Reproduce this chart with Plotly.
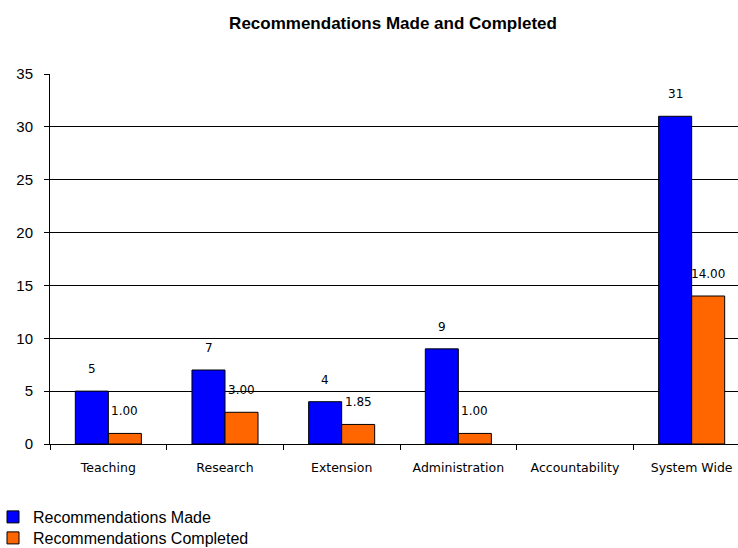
import plotly.graph_objects as go

categories = ["Teaching", "Research", "Extension", "Administration", "Accountability", "System Wide"]
made = [5, 7, 4, 9, None, 31]
completed = [1.00, 3.00, 1.85, 1.00, None, 14.00]
y_ticks = [0, 5, 10, 15, 20, 25, 30, 35]

BLUE = "#0000FF"
ORANGE = "#FF6600"

fig = go.Figure()
fig.add_trace(go.Bar(name="Recommendations Made", x=categories, y=made, legend="legend",
                     marker=dict(color=BLUE, line=dict(color="black", width=1))))
fig.add_trace(go.Bar(name="Recommendations Completed", x=categories, y=completed, legend="legend2",
                     marker=dict(color=ORANGE, line=dict(color="black", width=1))))

label_font = dict(family="DejaVu Sans", size=12, color="black")
for c, v in zip(categories, made):
    if v is not None:
        fig.add_annotation(x=c, y=v, text=f"{v:d}", showarrow=False, xshift=-16.5,
                           yshift=22, yanchor="middle", font=label_font)
for c, v in zip(categories, completed):
    if v is not None:
        fig.add_annotation(x=c, y=v, text=f"{v:.2f}", showarrow=False, xshift=16.5,
                           yshift=22, yanchor="middle", font=label_font)

leg_common = dict(orientation="v", xref="paper", yref="container",
                  xanchor="left", yanchor="middle",
                  font=dict(family="Liberation Sans", size=16, color="black"),
                  itemwidth=30, bgcolor="rgba(0,0,0,0)", borderwidth=0)

fig.update_layout(
    width=738, height=548,
    margin=dict(l=50, r=0, t=74, b=104, autoexpand=False),
    paper_bgcolor="white", plot_bgcolor="white",
    barmode="group", bargap=0.434, bargroupgap=0,
    title=dict(text="<b>Recommendations Made and Completed</b>", x=393/738, xanchor="center",
               y=1 - 23/548, yanchor="middle", font=dict(family="Liberation Sans", size=17, color="black")),
    showlegend=True,
    legend=dict(x=-57/688, y=1 - 517/548, **leg_common),
    legend2=dict(x=-57/688, y=1 - 538/548, **leg_common),
    xaxis=dict(type="category", range=[-0.5, 5.5 - 12/116.7], showgrid=False,
               showline=True, linecolor="black", linewidth=1, tickangle=0,
               ticks="outside", ticklen=5, tickcolor="black", tickson="boundaries",
               ticklabelstandoff=12,
               tickfont=dict(family="DejaVu Sans", size=12.5, color="black")),
    yaxis=dict(range=[0, 35], tickvals=y_ticks, showgrid=True, gridcolor="black", gridwidth=1,
               showline=True, linecolor="black", linewidth=1, zeroline=False,
               ticks="outside", ticklen=5, tickcolor="black", ticklabelstandoff=8,
               tickfont=dict(family="Liberation Sans", size=15, color="black")),
)

fig.write_html("out.html", config={"displayModeBar": False},
               post_script="document.body.style.margin='0';document.body.style.padding='0';")
